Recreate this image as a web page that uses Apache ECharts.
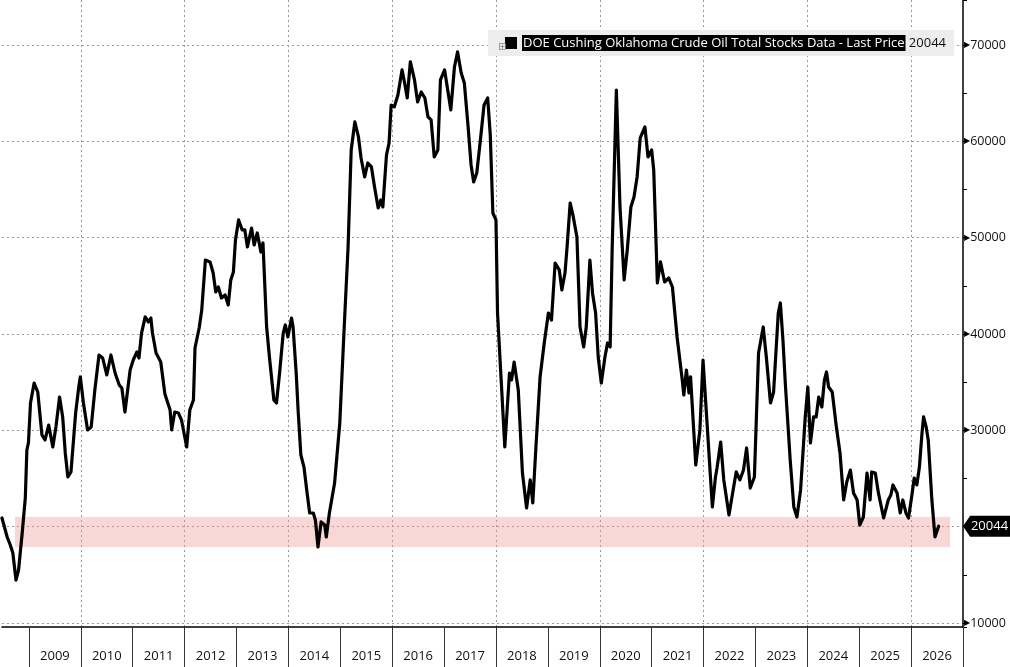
<!DOCTYPE html>
<html><head><meta charset="utf-8">
<script src="https://cdn.jsdelivr.net/npm/echarts@6/dist/echarts.min.js"></script>
<style>html,body{margin:0;padding:0;background:#fff}#c{width:1010px;height:667px}</style>
</head><body><div id="c"></div>
<script>
const SERIES_NAME = 'DOE Cushing Oklahoma Crude Oil Total Stocks Data - Last Price';
const years = [
2008.48,2008.58,2008.64,2008.69,2008.75,2008.80,2008.87,2008.93,2008.96,2008.99,
2009.03,2009.10,2009.17,2009.25,2009.31,2009.38,2009.46,2009.52,2009.59,2009.65,
2009.70,2009.75,2009.81,2009.90,2009.96,2009.99,2010.05,2010.13,2010.20,2010.27,
2010.35,2010.42,2010.50,2010.58,2010.66,2010.74,2010.79,2010.85,2010.95,2011.01,
2011.08,2011.12,2011.17,2011.24,2011.30,2011.35,2011.38,2011.45,2011.54,2011.62,
2011.72,2011.75,2011.81,2011.88,2011.94,2012.04,2012.10,2012.17,2012.20,2012.28,
2012.33,2012.40,2012.49,2012.55,2012.60,2012.65,2012.71,2012.78,2012.84,2012.89,
2012.94,2012.98,2013.04,2013.11,2013.16,2013.21,2013.29,2013.34,2013.40,2013.47,
2013.51,2013.58,2013.64,2013.72,2013.77,2013.83,2013.90,2013.94,2013.99,2014.06,
2014.09,2014.15,2014.19,2014.24,2014.30,2014.36,2014.41,2014.48,2014.52,2014.57,
2014.63,2014.70,2014.73,2014.79,2014.89,2014.99,2015.07,2015.15,2015.21,2015.28,
2015.35,2015.40,2015.47,2015.53,2015.60,2015.66,2015.73,2015.78,2015.82,2015.89,
2015.94,2015.98,2016.04,2016.11,2016.19,2016.24,2016.29,2016.35,2016.43,2016.49,
2016.56,2016.63,2016.69,2016.75,2016.81,2016.88,2016.93,2017.01,2017.07,2017.13,
2017.20,2017.26,2017.33,2017.39,2017.46,2017.52,2017.57,2017.63,2017.70,2017.77,
2017.84,2017.89,2017.94,2018.00,2018.03,2018.10,2018.17,2018.26,2018.30,2018.35,
2018.43,2018.51,2018.59,2018.66,2018.71,2018.77,2018.85,2018.93,2019.01,2019.07,
2019.14,2019.22,2019.27,2019.33,2019.37,2019.43,2019.49,2019.56,2019.62,2019.69,
2019.74,2019.81,2019.86,2019.92,2019.97,2020.03,2020.10,2020.15,2020.20,2020.24,
2020.32,2020.39,2020.47,2020.53,2020.60,2020.66,2020.72,2020.78,2020.87,2020.93,
2021.00,2021.04,2021.11,2021.17,2021.25,2021.33,2021.40,2021.49,2021.59,2021.62,
2021.67,2021.72,2021.75,2021.85,2021.93,2021.99,2022.06,2022.17,2022.23,2022.26,
2022.33,2022.39,2022.49,2022.58,2022.63,2022.70,2022.77,2022.83,2022.90,2022.98,
2023.06,2023.15,2023.21,2023.29,2023.35,2023.44,2023.48,2023.53,2023.58,2023.67,
2023.74,2023.80,2023.87,2023.96,2024.01,2024.06,2024.12,2024.17,2024.22,2024.28,
2024.33,2024.37,2024.41,2024.48,2024.56,2024.63,2024.70,2024.76,2024.83,2024.89,
2024.96,2025.01,2025.08,2025.15,2025.21,2025.24,2025.31,2025.37,2025.40,2025.47,
2025.56,2025.61,2025.65,2025.73,2025.79,2025.84,2025.90,2025.95,2026.01,2026.06,
2026.11,2026.16,2026.21,2026.24,2026.29,2026.33,2026.40,2026.46,2026.53
];
const stocks = [
20900,18930,18100,17270,14460,15500,19340,22980,27960,28690,
32840,34910,33980,29520,29000,30550,28270,30350,33460,31390,
27650,25160,25680,31800,34500,35540,32840,30040,30350,34190,
37820,37510,35750,37820,35950,34710,34400,31900,36260,37300,
38130,37510,40100,41770,41250,41660,40100,38030,37090,33770,
32110,30040,31900,31800,31070,28270,32110,33150,38550,40620,
42490,47680,47480,46330,44360,44880,43740,44050,43010,45610,
46440,49760,51840,50800,50800,49030,51000,49240,50490,48510,
49450,40730,37300,33150,32840,35950,40100,40940,39690,41660,
40730,35950,31800,27440,26190,23500,21420,21420,20690,17890,
20490,20170,18930,21420,24530,30760,40100,49030,59100,62010,
60450,58270,56300,57750,57340,55260,53080,53910,53190,58580,
59830,63770,63570,64810,67410,66060,64500,68240,66370,64090,
65120,64500,62530,62220,58380,59100,66370,67410,65330,63260,
67720,69280,67100,66060,61700,57550,55780,56710,60140,63770,
64500,60660,52560,51840,42180,35230,28270,35950,35230,37090,
34190,25570,21940,24850,22460,28270,35540,39070,42180,41450,
47370,46650,44570,46330,49030,53600,52150,50070,40730,38650,
40730,47680,44260,42180,37610,34910,37610,39070,38650,49030,
65330,53190,45610,48720,53190,54220,56300,60350,61490,58380,
59100,57030,45300,47480,45400,45810,44880,39690,35230,33670,
36260,33880,35540,26400,30040,37300,31390,22040,25160,26090,
28790,24850,21210,24120,25680,24850,25880,28170,24010,25160,
38030,40730,37610,32840,33980,42180,43220,39380,34500,26920,
22040,21000,23810,31390,34500,28690,31390,31390,33460,32420,
35230,36060,34500,33980,30350,27650,22770,24640,25880,23500,
22770,20170,21000,25570,22770,25680,25570,23500,23600,20900,
22770,23290,24330,23500,21420,22770,21420,20900,23080,25050,
24330,26190,29720,31390,30350,29000,22770,18930,20044
];
const LAST = 20044;
const YEAR_BOUNDS = [2009,2010,2011,2012,2013,2014,2015,2016,2017,2018,2019,2020,2021,2022,2023,2024,2025,2026,2027];
const X_MIN = 2008.48, X_MAX = 2027;
const Y_MIN = 9585, Y_MAX = 74670;
const BAND_LOW = 17900, BAND_HIGH = 21000;
const BAND_START = 2008.73, BAND_END = 2026.75;

const FONT = '"Open Sans", "DejaVu Sans", sans-serif';
const chart = echarts.init(document.getElementById('c'), null, {renderer: 'canvas'});
const gridLine = {show: true, showMinLine: false, showMaxLine: false,
  lineStyle: {color: '#9a9a9a', type: [2, 3], width: 1}};

const option = {
  animation: false,
  backgroundColor: '#ffffff',
  grid: {left: 0, right: 47, top: 0, bottom: 40, containLabel: false},
  title: {text: '⊞', left: 493, top: 37, z: 10,
    textStyle: {fontSize: 10, color: '#8a8a8a', fontWeight: 'normal', fontFamily: '"DejaVu Sans"'}},
  legend: {
    show: true, left: 488, top: 30, selectedMode: false,
    icon: 'rect', itemWidth: 12, itemHeight: 12, itemGap: 0,
    padding: [5, 8, 5, 17], backgroundColor: '#ededed',
    data: [SERIES_NAME],
    itemStyle: {color: '#000'},
    formatter: n => '{n|' + n + '} {v|' + LAST + '}',
    textStyle: {
      rich: {
        n: {backgroundColor: '#000', color: '#fff', fontSize: 13, fontFamily: FONT, padding: [2, 1, 1, 1]},
        v: {color: '#111', fontSize: 13, fontFamily: FONT}
      }
    }
  },
  xAxis: [
    {type: 'value', min: X_MIN, max: X_MAX, minInterval: 1, maxInterval: 1, position: 'bottom',
      axisLine: {show: true, onZero: false, lineStyle: {color: '#000', width: 1.5}},
      axisTick: {show: true, length: 40, customValues: YEAR_BOUNDS, lineStyle: {color: '#333', width: 1}},
      axisLabel: {show: false}, splitLine: {show: false}},
    {type: 'value', min: X_MIN, max: X_MAX, minInterval: 2, maxInterval: 2, position: 'bottom',
      axisLine: {show: false, onZero: false}, axisTick: {show: false}, axisLabel: {show: false},
      splitLine: gridLine},
    {type: 'value', min: X_MIN, max: X_MAX, minInterval: 0.5, maxInterval: 0.5, position: 'bottom',
      axisLine: {show: false, onZero: false}, axisTick: {show: false}, splitLine: {show: false},
      axisLabel: {show: true, showMinLabel: false, showMaxLabel: false, margin: 23, color: '#111', fontSize: 13, fontFamily: FONT,
        formatter: v => {
          const f = v - Math.floor(v);
          return (Math.abs(f - 0.5) < 0.01 && v > 2009) ? String(Math.floor(v)) : '';
        }}}
  ],
  yAxis: [
    {type: 'value', position: 'right', min: Y_MIN, max: Y_MAX, minInterval: 10000, maxInterval: 10000,
      axisLine: {show: true, onZero: false, lineStyle: {color: '#000', width: 1.5}},
      axisTick: {show: false},
      axisLabel: {show: true, showMinLabel: false, showMaxLabel: false, margin: 1,
        formatter: v => (v === 20000 ? '' : '{a|▶}{v|' + v + '}'),
        rich: {a: {fontSize: 8, color: '#000', fontFamily: '"DejaVu Sans"'},
               v: {fontSize: 12.5, color: '#111', fontFamily: FONT}}},
      splitLine: gridLine},
    {type: 'value', position: 'right', min: Y_MIN, max: Y_MAX, minInterval: 5000, maxInterval: 5000,
      axisLine: {show: false, onZero: false},
      axisTick: {show: true, length: 4, lineStyle: {color: '#000', width: 1}},
      axisLabel: {show: false}, splitLine: {show: false}}
  ],
  series: [{
    type: 'line', name: SERIES_NAME, xAxisIndex: 0, yAxisIndex: 0,
    data: years.map((y, i) => [y, stocks[i]]),
    showSymbol: false, symbol: 'none', clip: false,
    lineStyle: {color: '#000', width: 3.2, join: 'round', cap: 'round'},
    itemStyle: {color: '#000'},
    z: 3,
    markArea: {silent: true, itemStyle: {color: 'rgba(240,150,150,0.38)'},
      data: [[{coord: [BAND_START, BAND_LOW]}, {coord: [BAND_END, BAND_HIGH]}]]},
    markPoint: {silent: true,
      symbol: 'path://M0,10 L7,0 L46,0 L46,20 L7,20 Z', symbolSize: [47, 21], symbolOffset: ['50%', 0],
      itemStyle: {color: '#000'},
      label: {show: true, color: '#fff', fontSize: 13, fontFamily: FONT, offset: [3, 0],
        formatter: p => String(p.value)},
      data: [{coord: [X_MAX, LAST], value: LAST}]}
  }]
};
chart.setOption(option);
</script></body></html>
